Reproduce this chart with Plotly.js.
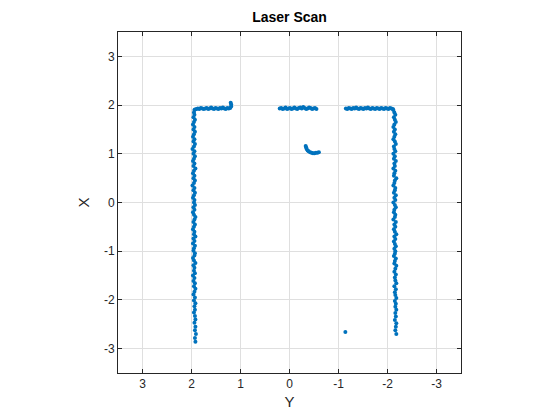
<!DOCTYPE html>
<html>
<head>
<meta charset="utf-8">
<script src="https://cdn.plot.ly/plotly-3.0.1.min.js"></script>
<style>html,body{margin:0;padding:0;background:#fff;}</style>
</head>
<body>
<div id="chart" style="width:560px;height:420px;"></div>
<script>
// Laser scan points: horizontal axis shows Y, vertical axis shows X
const leftWallX = [
-2.86,-2.78,-2.70,-2.62,-2.55,-2.47,-2.40,-2.33,-2.26,-2.20,
-2.13,-2.07,-2.01,-1.95,-1.89,-1.83,-1.77,-1.72,-1.66,-1.61,
-1.55,-1.50,-1.45,-1.40,-1.34,-1.29,-1.24,-1.19,-1.14,-1.09,
-1.04,-0.99,-0.94,-0.89,-0.84,-0.79,-0.74,-0.70,-0.65,-0.60,
-0.55,-0.50,-0.45,-0.40,-0.35,-0.30,-0.25,-0.20,-0.15,-0.10,
-0.05,0.00,0.05,0.10,0.15,0.20,0.25,0.30,0.35,0.40,
0.45,0.50,0.55,0.60,0.65,0.70,0.75,0.80,0.85,0.90,
0.95,1.00,1.05,1.10,1.15,1.20,1.25,1.30,1.35,1.40,
1.45,1.50,1.55,1.60,1.65,1.70,1.75,1.80,1.85,1.90];
const leftWallY = [
1.92,1.93,1.91,1.93,1.92,1.94,1.92,1.93,1.95,1.93,
1.94,1.92,1.95,1.93,1.96,1.94,1.92,1.95,1.93,1.96,
1.94,1.97,1.93,1.95,1.94,1.96,1.92,1.95,1.97,1.94,
1.93,1.96,1.95,1.93,1.97,1.94,1.96,1.92,1.95,1.94,
1.97,1.95,1.93,1.96,1.94,1.92,1.95,1.97,1.94,1.96,
1.93,1.95,1.94,1.97,1.95,1.93,1.96,1.94,1.98,1.95,
1.93,1.96,1.94,1.97,1.95,1.92,1.96,1.94,1.97,1.95,
1.93,1.96,1.94,1.98,1.95,1.93,1.96,1.94,1.97,1.95,
1.93,1.96,1.94,1.97,1.95,1.93,1.96,1.94,1.95,1.94];

const topLeftY = [1.93,1.90,1.87,1.84,1.81,1.78,1.75,1.72,1.69,1.66,1.63,1.60,1.57,1.54,1.51,1.48,1.45,1.42,1.39,1.36,1.33,1.30,1.27,1.24,1.21,1.19,1.19,1.20];
const topLeftX = [1.91,1.92,1.93,1.92,1.94,1.93,1.92,1.93,1.94,1.92,1.93,1.95,1.93,1.92,1.94,1.93,1.92,1.94,1.93,1.95,1.93,1.92,1.94,1.93,1.94,1.97,2.01,2.05];

const topMidY = [0.20,0.17,0.14,0.11,0.08,0.05,0.02,-0.01,-0.04,-0.07,-0.10,-0.13,-0.16,-0.19,-0.22,-0.25,-0.28,-0.31,-0.34,-0.37,-0.40,-0.43,-0.46,-0.49,-0.52,-0.55];
const topMidX = [1.93,1.94,1.92,1.93,1.95,1.92,1.93,1.94,1.92,1.93,1.95,1.93,1.92,1.94,1.95,1.93,1.96,1.94,1.92,1.93,1.95,1.94,1.92,1.93,1.94,1.92];

const arcY = [-0.33,-0.34,-0.35,-0.37,-0.39,-0.42,-0.45,-0.48,-0.51,-0.54,-0.57,-0.60];
const arcX = [1.16,1.13,1.10,1.07,1.05,1.03,1.02,1.01,1.01,1.02,1.02,1.03];

const topRightY = [-1.15,-1.18,-1.21,-1.24,-1.27,-1.30,-1.33,-1.36,-1.39,-1.42,-1.45,-1.48,-1.51,-1.54,-1.57,-1.60,-1.63,-1.66,-1.69,-1.72,-1.75,-1.78,-1.81,-1.84,-1.87,-1.90,-1.93,-1.96,-1.99,-2.02,-2.05,-2.08,-2.11];
const topRightX = [1.93,1.92,1.94,1.93,1.92,1.94,1.93,1.95,1.93,1.92,1.94,1.93,1.92,1.94,1.93,1.95,1.93,1.92,1.94,1.93,1.92,1.94,1.93,1.92,1.94,1.93,1.92,1.94,1.93,1.92,1.94,1.93,1.92];

const rightWallX = [
1.90,1.85,1.80,1.75,1.70,1.65,1.60,1.55,1.50,1.45,
1.40,1.35,1.30,1.25,1.20,1.15,1.10,1.05,1.00,0.95,
0.90,0.85,0.80,0.75,0.70,0.65,0.60,0.55,0.50,0.45,
0.40,0.35,0.30,0.25,0.20,0.15,0.10,0.05,0.00,-0.05,
-0.10,-0.15,-0.20,-0.25,-0.30,-0.35,-0.40,-0.45,-0.50,-0.55,
-0.60,-0.65,-0.70,-0.75,-0.80,-0.85,-0.90,-0.95,-1.00,-1.05,
-1.10,-1.15,-1.20,-1.25,-1.30,-1.36,-1.42,-1.48,-1.54,-1.60,
-1.66,-1.72,-1.78,-1.84,-1.90,-1.96,-2.02,-2.08,-2.14,-2.20,
-2.27,-2.34,-2.41,-2.48,-2.55,-2.62,-2.70];
const rightWallY = [
-2.12,-2.14,-2.16,-2.13,-2.15,-2.17,-2.14,-2.12,-2.15,-2.13,
-2.16,-2.14,-2.12,-2.15,-2.17,-2.13,-2.14,-2.16,-2.12,-2.15,
-2.13,-2.17,-2.14,-2.15,-2.12,-2.16,-2.14,-2.13,-2.18,-2.15,
-2.14,-2.12,-2.16,-2.15,-2.13,-2.17,-2.14,-2.16,-2.12,-2.15,
-2.17,-2.14,-2.13,-2.16,-2.15,-2.12,-2.17,-2.14,-2.16,-2.13,
-2.15,-2.18,-2.14,-2.16,-2.13,-2.15,-2.17,-2.14,-2.16,-2.15,
-2.13,-2.17,-2.15,-2.14,-2.18,-2.16,-2.14,-2.17,-2.15,-2.16,
-2.18,-2.14,-2.17,-2.15,-2.16,-2.18,-2.15,-2.17,-2.16,-2.18,
-2.16,-2.17,-2.15,-2.18,-2.17,-2.16,-2.18];

const outlierY = [-1.14];
const outlierX = [-2.66];

const tickVals = [-3,-2,-1,0,1,2,3];
const tickText = ['-3','-2','-1','0','1','2','3'];

const segY = [leftWallY, topLeftY, topMidY, arcY, topRightY, rightWallY, outlierY];
const segX = [leftWallX, topLeftX, topMidX, arcX, topRightX, rightWallX, outlierX];

const traces = segY.map((ys, i) => ({
  type: 'scatter', mode: 'markers',
  x: ys, y: segX[i],
  marker: {color: '#0072BD', size: 4},
  hoverinfo: 'skip', showlegend: false
}));

const axisCommon = {
  tickvals: tickVals, ticktext: tickText,
  showgrid: true, gridcolor: '#dfdfdf', gridwidth: 1,
  zeroline: false, showline: true, linecolor: '#262626', linewidth: 1,
  mirror: 'ticks', ticks: 'inside', ticklen: 4, tickcolor: '#262626',
  tickfont: {family: 'Liberation Sans, Arial, sans-serif', size: 12, color: '#262626'}
};

const layout = {
  width: 560, height: 420,
  margin: {l: 118, r: 99, t: 32, b: 47},
  paper_bgcolor: '#ffffff', plot_bgcolor: '#ffffff',
  title: {text: '<b>Laser Scan</b>', x: 0.5, xref: 'paper', y: 1 - 17/420, yref: 'container', yanchor: 'middle',
          font: {family: 'Liberation Sans, Arial, sans-serif', size: 14, color: '#000'}},
  xaxis: Object.assign({}, axisCommon, {
    range: [3.5, -3.5],
    title: {text: 'Y', standoff: 6, font: {family: 'Liberation Sans, Arial, sans-serif', size: 15, color: '#262626'}}
  }),
  yaxis: Object.assign({}, axisCommon, {
    range: [-3.5, 3.5],
    title: {text: 'X', standoff: 10, font: {family: 'Liberation Sans, Arial, sans-serif', size: 15, color: '#262626'}}
  })
};

Plotly.newPlot('chart', traces, layout, {staticPlot: true, displayModeBar: false});
</script>
</body>
</html>
